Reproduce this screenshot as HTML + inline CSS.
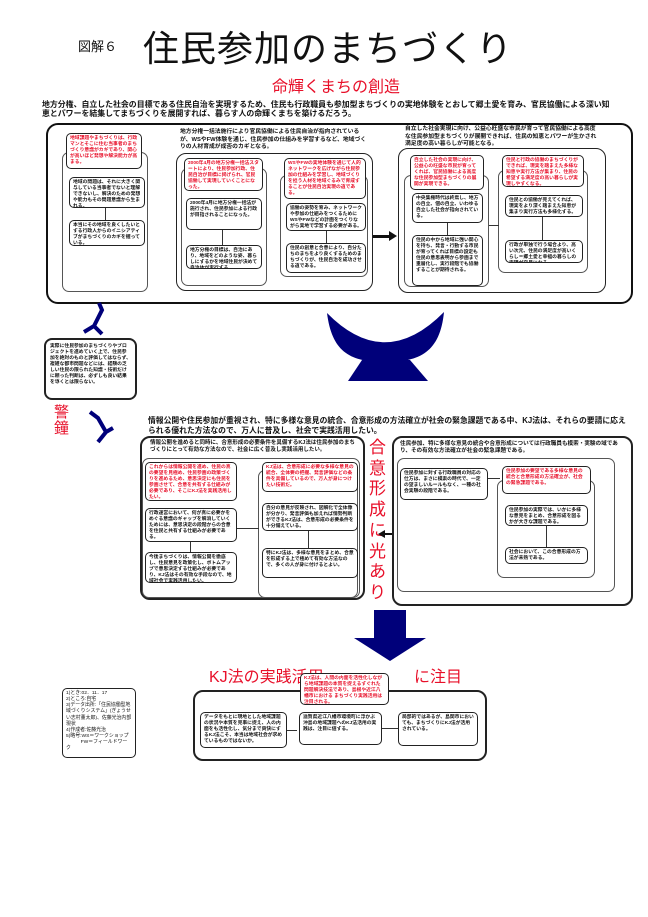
<!DOCTYPE html>
<html><head><meta charset="utf-8"><style>
*{margin:0;padding:0;box-sizing:border-box}
body{width:648px;height:917px;background:#fff;position:relative;overflow:hidden;font-family:"Liberation Sans","Noto Sans CJK JP",sans-serif;color:#111}
.a{position:absolute}
.b{position:absolute;border:1.3px solid #222;border-radius:5px;background:#fff;font-size:4.8px;line-height:1.25;padding:2px 3px;font-weight:bold;overflow:hidden}
.r{color:#e8102a}
.big{position:absolute;border:2px solid #111;border-radius:12px}
.pan{position:absolute;border:1.5px solid #222;border-radius:10px}
.br{position:absolute;border:1px solid #555;border-radius:7px}
.t{position:absolute;font-size:6px;line-height:1.3;font-weight:bold}
.red{color:#e8102a}
</style></head><body>
<div class="a" style="left:78px;top:36px;font-size:13px">図解６</div>
<div class="a" style="left:143px;top:20px;font-size:36px;letter-spacing:1px">住民参加のまちづくり</div>
<div class="a red" style="left:272px;top:73px;font-size:16px">命輝くまちの創造</div>
<div class="t" style="left:42px;top:100px;width:575px;font-size:7.9px;line-height:1.2">地方分権、自立した社会の目標である住民自治を実現するため、住民も行政職員も参加型まちづくりの実地体験をとおして郷土愛を育み、官民協働による深い知恵とパワーを結集してまちづくりを展開すれば、暮らす人の命輝くまちを築けるだろう。</div>

<div class="big" style="left:46px;top:123px;width:587px;height:181px"></div>
<div class="br" style="left:62px;top:152px;width:86px;height:140px"></div>
<div class="b r" style="left:66px;top:133px;width:76px;height:36px">地域課題やまちづくりは、行政マンとそこに住む当事者のまちづくり意識がカギであり、関心が高いほど発想や解決能力が高まる。</div>
<div class="b" style="left:69px;top:177px;width:76px;height:31px">地域の問題は、それに大きく関与している当事者でないと理解できないし、解決のための発想や能力もその問題意識から生まれる。</div>
<div class="a" style="left:105px;top:208px;width:1px;height:12px;background:#333"></div>
<div class="b" style="left:69px;top:220px;width:76px;height:26px">本当にその地域を良くしたいとする行政人からのイニシアティブがまちづくりのカギを握っている。</div>

<div class="t" style="left:180px;top:129px;width:190px;font-size:5.8px">地方分権一括法施行により官民協働による住民自治が指向されているが、WSやFW体験を通じ、住民参加の仕組みを学習するなど、地域づくりの人材育成が成否のカギとなる。</div>
<div class="pan" style="left:176px;top:153px;width:197px;height:138px"></div>
<div class="br" style="left:181px;top:168px;width:86px;height:118px"></div>
<div class="br" style="left:280px;top:175px;width:88px;height:102px"></div>
<div class="b r" style="left:184px;top:158px;width:79px;height:33px">2000年4月の地方分権一括法スタートにより、住民参加行政、住民自治が目標に掲げられ、官民協働して実現していくことになった。</div>
<div class="b" style="left:186px;top:198px;width:76px;height:32px">2000年4月に地方分権一括法が施行され、住民参加による行政が目指されることになった。</div>
<div class="a" style="left:222px;top:230px;width:1px;height:15px;background:#333"></div>
<div class="b" style="left:186px;top:245px;width:76px;height:24px">地方分権の目標は、自治にあり、地域をどのような姿、暮らしにするかを地域住民が決めて自治体が実行する。</div>
<div class="b r" style="left:284px;top:158px;width:82px;height:41px">WSやFWの実地体験を通じて人的ネットワークを広げながら住民参加の仕組みを学習し、地域づくりを担う人材を地域ぐるみで育成することが住民自治実現の道である。</div>
<div class="b" style="left:286px;top:203px;width:80px;height:28px">協働の姿勢を育み、ネットワークや参加の仕組みをつくるためにWSやFWなどの計画をつくりながら実地で学習する必要がある。</div>
<div class="a" style="left:326px;top:231px;width:1px;height:12px;background:#333"></div>
<div class="b" style="left:286px;top:243px;width:80px;height:30px">住民の創意と合意により、自分たちのまちをより良くするためのまちづくりが、住民自治を成功させる道である。</div>
<div class="a" style="left:373px;top:235px;width:18px;height:2.5px;background:#111"></div>
<div class="a" style="left:389px;top:231px;border-left:8px solid #111;border-top:5px solid transparent;border-bottom:5px solid transparent"></div>

<div class="t" style="left:405px;top:126px;width:195px;font-size:5.8px">自立した社会実現に向け、公益心旺盛な市民が育って官民協働による高度な住民参加型まちづくりが展開できれば、住民の知恵とパワーが生かされ満足度の高い暮らしが可能となる。</div>
<div class="pan" style="left:398px;top:148px;width:208px;height:145px"></div>
<div class="br" style="left:404px;top:175px;width:85px;height:112px"></div>
<div class="br" style="left:498px;top:170px;width:90px;height:103px"></div>
<div class="b r" style="left:410px;top:155px;width:74px;height:35px">自立した社会の実現に向け、公益心の旺盛な市民が育ってくれば、官民協働による高度な住民参加型まちづくりの展開が実現できる。</div>
<div class="b" style="left:412px;top:193px;width:71px;height:30px">中央集権時代は終焉し、地方の自立、個の自立、いわゆる自立した社会が指向されている。</div>
<div class="a" style="left:447px;top:223px;width:1px;height:12px;background:#333"></div>
<div class="b" style="left:412px;top:235px;width:71px;height:51px">住民の中から地域に強い関心を持ち、発言・行動する市民が育ってくれば目標の設定も住民の意思表明から参画まで重層化し、実行段階でも協働することが期待される。</div>
<div class="b r" style="left:502px;top:155px;width:82px;height:32px">住民と行政の協働のまちづくりができれば、現実を踏まえた多様な知恵や実行方法が集まり、住民の希望する満足度の高い暮らしが実現しやすくなる。</div>
<div class="b" style="left:505px;top:195px;width:78px;height:22px">住民との協働が見えてくれば、現実をより深く踏まえた知恵が集まり実行方法も多様化する。</div>
<div class="a" style="left:542px;top:217px;width:1px;height:23px;background:#333"></div>
<div class="b" style="left:505px;top:240px;width:78px;height:23px">行政が単独で行う場合より、高い次元、住民の満足度が高いくらし＝郷土愛と幸福の暮らしの実現が容易になる。</div>
<div class="a" style="left:489px;top:225px;width:10px;height:1px;background:#333"></div>

<svg class="a" style="left:0;top:0" width="648" height="460">
<path d="M327 313 Q385 372 444 312 C440 352 420 362 385 362 C350 362 332 352 327 313 Z" fill="#00007a"/>
<path d="M362 360 L410 360 L428 381 L348 381 Z" fill="#00007a"/>
<path d="M99 303 L102 310 L94 326 L84 332 M94 326 L102 334" stroke="#00007a" stroke-width="4" fill="none"/>
<path d="M90 412 L98 418 L106 432 L98 442 M106 432 L113 428" stroke="#00007a" stroke-width="4" fill="none"/>
</svg>
<div class="b" style="left:44px;top:338px;width:93px;height:62px;border-width:2px;border-radius:8px;font-size:4.8px;padding:4px">実際に住民参加のまちづくりやプロジェクトを進めていく上で、住民参加を絶対のものと評価してはならず、複雑な都市問題などには、経験の乏しい住民の限られた知識・技術だけに頼った判断は、必ずしも良い結果を導くとは限らない。</div>
<div class="a red" style="left:54px;top:405px;font-size:15px;line-height:1.05;width:18px">警鐘</div>

<div class="t" style="left:148px;top:416px;width:478px;font-size:7.8px;line-height:1.25">情報公開や住民参加が重視され、特に多様な意見の統合、合意形成の方法確立が社会の緊急課題である中、KJ法は、それらの要請に応えられる優れた方法なので、万人に普及し、社会で実践活用したい。</div>
<div class="pan" style="left:140px;top:436px;width:225px;height:164px;border-width:2px"></div>
<div class="t" style="left:150px;top:440px;width:210px;font-size:5.5px">情報公開を進めると同時に、合意形成の必要条件を具備するKJ法は住民参加のまちづくりにとって有効な方法なので、社会に広く普及し実践活用したい。</div>
<div class="br" style="left:142px;top:458px;width:218px;height:140px"></div>
<div class="br" style="left:258px;top:470px;width:100px;height:128px"></div>
<div class="b r" style="left:145px;top:462px;width:92px;height:39px">これからは情報公開を進め、住民の真の要望を見極め、住民参画の政策づくりを進めるため、意思決定にも住民を参画させて、合意を共有する仕組みが必要であり、そこにKJ法を実践活用したい。</div>
<div class="b" style="left:145px;top:508px;width:92px;height:34px">行政運営において、何が真に必要かをめぐる意識のギャップを解消していくためには、意思決定の段階からの合意を住民と共有する仕組みが必要である。</div>
<div class="a" style="left:190px;top:542px;width:1px;height:10px;background:#333"></div>
<div class="b" style="left:145px;top:552px;width:92px;height:31px">今後まちづくりは、情報公開を徹底し、住民意見を政策化し、ボトムアップで意思決定する仕組みが必要であり、KJ法はその有効な手段なので、地域社会で実践活用したい。</div>
<div class="a" style="left:237px;top:528px;width:22px;height:1px;background:#333"></div>
<div class="b r" style="left:262px;top:462px;width:96px;height:30px">KJ法は、合意形成に必要な多様な意見の統合、全体要の把握、発言評価などの条件を具備しているので、万人が身につけたい技術だ。</div>
<div class="b" style="left:262px;top:503px;width:96px;height:28px">自分の意見が反映され、図解化で全体像が分かり、発言評価も加えれば情勢判断ができるKJ法は、合意形成の必要条件を十分備えている。</div>
<div class="a" style="left:308px;top:531px;width:1px;height:17px;background:#333"></div>
<div class="b" style="left:262px;top:548px;width:96px;height:30px">特にKJ法は、多様な意見をまとめ、合意を形成する上で極めて有効な方法なので、多くの人が身に付けるとよい。</div>
<div class="a red" style="left:369px;top:438px;font-size:17px;line-height:1.22;width:20px">合意形成に光あり</div>
<div class="a" style="left:384px;top:533px;width:10px;height:2px;background:#111"></div>
<div class="a" style="left:378px;top:530px;border-right:7px solid #111;border-top:4px solid transparent;border-bottom:4px solid transparent"></div>

<div class="pan" style="left:392px;top:436px;width:241px;height:170px;border-width:2px"></div>
<div class="t" style="left:400px;top:441px;width:225px;font-size:5.6px">住民参加、特に多様な意見の統合や合意形成については行政職員も模索・実験の域であり、その有効な方法確立が社会の緊急課題である。</div>
<div class="br" style="left:397px;top:458px;width:218px;height:134px"></div>
<div class="br" style="left:497px;top:480px;width:98px;height:98px"></div>
<div class="b" style="left:400px;top:468px;width:88px;height:32px">住民参加に対する行政職員の対応の仕方は、まさに模索の時代で、一定の望ましいルールもなく、一種の社会実験の段階である。</div>
<div class="a" style="left:488px;top:478px;width:12px;height:1px;background:#333"></div>
<div class="b r" style="left:502px;top:466px;width:89px;height:28px">住民参加の要望である多様な意見の統合と合意形成の方法確立が、社会の緊急課題である。</div>
<div class="b" style="left:505px;top:505px;width:83px;height:21px">住民参加の実際では、いかに多様な意見をまとめ、合意形成を図るかが大きな課題である。</div>
<div class="a" style="left:546px;top:526px;width:1px;height:21px;background:#333"></div>
<div class="b" style="left:505px;top:547px;width:83px;height:17px">社会において、この合意形成の方法が未熟である。</div>

<svg class="a" style="left:350px;top:608px" width="80" height="56"><path d="M24 2 H56 V30 H76 L40 53 L4 30 H24 Z" fill="#00007a"/></svg>
<div class="a red" style="left:209px;top:663px;font-size:16px">KJ法の実践活用</div>
<div class="a red" style="left:414px;top:663px;font-size:16px">に注目</div>
<div class="b" style="left:62px;top:688px;width:74px;height:70px;font-weight:normal;font-size:4.9px">1)とき:02．11．17<br>2)ところ:自宅<br>3)データ出所:「住民協働型地域づくりシステム」(ぎょうせい志村董太郎)、佐藤光治内部現状<br>4)作成者:佐藤光治<br>5)略号:WS＝ワークショップ<br>　　　FW＝フィールドワーク</div>
<div class="pan" style="left:193px;top:690px;width:294px;height:71px;border-width:2px"></div>
<div class="b r" style="left:300px;top:673px;width:89px;height:32px">KJ法は、人間の内面を活性化しながら地域課題の本質を捉えるすぐれた問題解決技法であり、島根や近江八幡市における まちづくり実践活用は注目される。</div>
<div class="b" style="left:200px;top:712px;width:87px;height:36px">データをもとに現地とした地域課題の状況や本質を見事に捉え、人の内面をも活性化し、気分まで爽快にするKJ法こそ、本当は地域社会が求めているものではないか。</div>
<div class="a" style="left:287px;top:730px;width:10px;height:1px;background:#333"></div>
<div class="b" style="left:299px;top:712px;width:83px;height:33px">滋賀県近江八幡市環境町に浮かぶ沖島の地域課題へのKJ法活用の実践は、注目に値する。</div>
<div class="a" style="left:382px;top:728px;width:16px;height:1px;background:#333"></div>
<div class="b" style="left:398px;top:712px;width:80px;height:34px">局部的ではあるが、島関市においても、まちづくりにKJ法が活用されている。</div>
</body></html>
